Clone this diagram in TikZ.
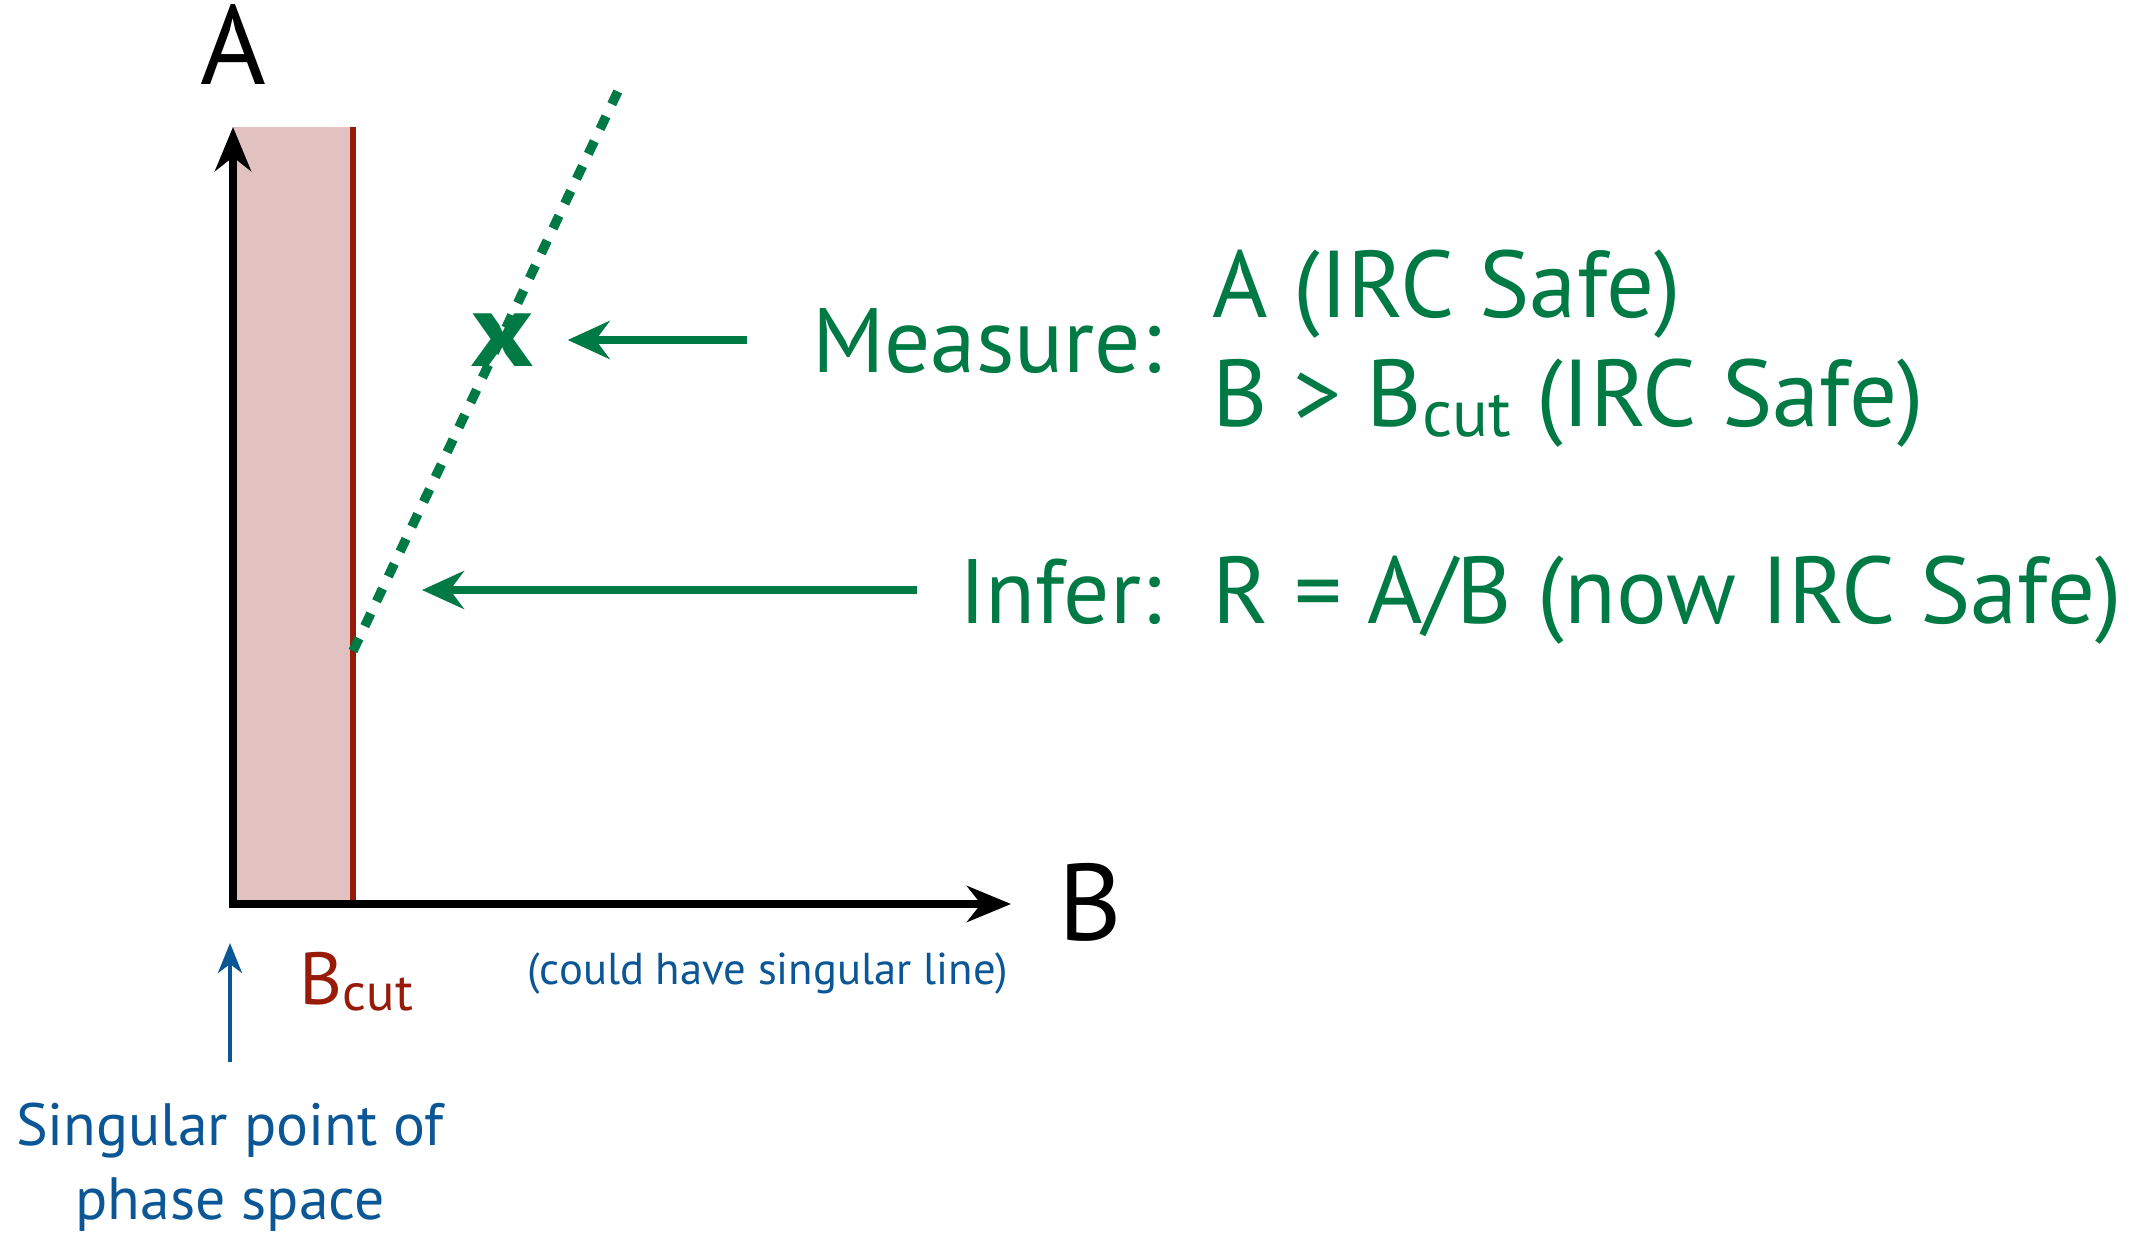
\documentclass[tikz,border=0pt]{standalone}
\usepackage{fontspec}
\setmainfont{PT Sans}
\usetikzlibrary{arrows.meta,positioning}
\definecolor{ircgreen}{HTML}{007A45}
\definecolor{cutred}{HTML}{981A08}
\definecolor{cutpink}{HTML}{E2C2C1}
\definecolor{singblue}{HTML}{0B5796}

\begin{document}
\begin{tikzpicture}[
    x=1cm,y=1cm,
    axe/.style  = {{Stealth[length=4.4mm,width=3.6mm,inset=1.4mm]}-{Stealth[length=4.4mm,width=3.6mm,inset=1.4mm]},
                   line width=2.3pt,line join=miter},
    cut/.style  = {cutred,line width=1.8pt},
    band/.style = {fill=cutpink},
    ratio/.style= {ircgreen,line width=2.7pt,dash pattern=on 1.4mm off 1.35mm},
    ptr/.style  = {-{Stealth[length=4.2mm,width=3.8mm,inset=1.4mm]},ircgreen,line width=2.1pt},
    grn/.style  = {font=\fontsize{26}{31}\selectfont,text=ircgreen,inner sep=0pt},
    sng/.style  = {font=\fontsize{17}{21}\selectfont,text=singblue,inner sep=0pt,align=center},
  ]
  \useasboundingbox (0,0) rectangle (21.48,12.32);

  % Axes et zone coupee
  \coordinate (orig)   at (2.33,3.28);
  \coordinate (ytop)   at (2.33,11.05);
  \coordinate (xend)   at (10.11,3.28);
  \coordinate (cutbot) at (3.53,3.28);
  \coordinate (cuttop) at (3.53,11.05);
  \fill[band] (orig) rectangle (cuttop);
  \draw[cut] (cutbot) -- (cuttop);
  \draw[axe] (ytop) -- (orig) -- (xend);
  \node[font=\fontsize{32}{36}\selectfont,inner sep=0pt,anchor=base] (alab) at (2.33,11.47) {A};
  \node[font=\fontsize{31}{36}\selectfont,inner sep=0pt,anchor=base west] (blab) at (10.58,2.92) {B};

  % Droite R = A/B
  \coordinate (rbeg) at (3.53,5.81);
  \coordinate (rend) at (6.19,11.43);
  \draw[ratio] (rbeg) -- (rend);
  \node[font=\fontsize{30}{34}\selectfont\bfseries,text=ircgreen,inner sep=0pt,xscale=1.15] (meas) at (5.02,8.92) {x};
  \coordinate (rpt) at (4.22,6.42);

  % Textes
  \node[grn,anchor=base east] (mlab) at (11.62,8.59) {Measure:};
  \node[grn,font=\fontsize{27}{31}\selectfont,anchor=base west] (mA) at (12.12,9.14) {A (IRC Safe)};
  \node[grn,font=\fontsize{27}{31}\selectfont,anchor=base west] (mB) at (12.12,8.05)
    {B > B{\fontsize{19}{22}\selectfont\raisebox{-0.14em}{cut}} (IRC Safe)};
  \node[grn,anchor=base east] (ilab) at (11.62,6.09) {Infer:};
  \node[grn,font=\fontsize{27}{31}\selectfont,anchor=base west] (iR) at (12.12,6.09) {R = A/B (now IRC Safe)};
  \draw[ptr] ([xshift=-6.4mm]mlab.west |- meas) -- ([xshift=3.3mm]meas.east);
  \draw[ptr] ([xshift=-4.1mm]ilab.west |- rpt) -- (rpt);

  % Legendes du bas
  \node[font=\fontsize{21}{25}\selectfont,text=cutred,inner sep=0pt,anchor=base west] (bcut) at (2.99,2.28)
    {B{\fontsize{15}{18}\selectfont\raisebox{-0.12em}{cut}}};
  \node[font=\fontsize{12.7}{15}\selectfont,text=singblue,inner sep=0pt,anchor=base west] (line) at (5.27,2.48)
    {(could have singular line)};
  \node[sng,anchor=base] (sing) at (2.30,0.13) {Singular point of\\ phase space};
  \coordinate (stip) at (2.30,2.89);
  \draw[-{Stealth[length=3mm,width=2.4mm,inset=0.9mm]},singblue,line width=1.3pt] (2.30,1.70) -- (stip);
\end{tikzpicture}
\end{document}
